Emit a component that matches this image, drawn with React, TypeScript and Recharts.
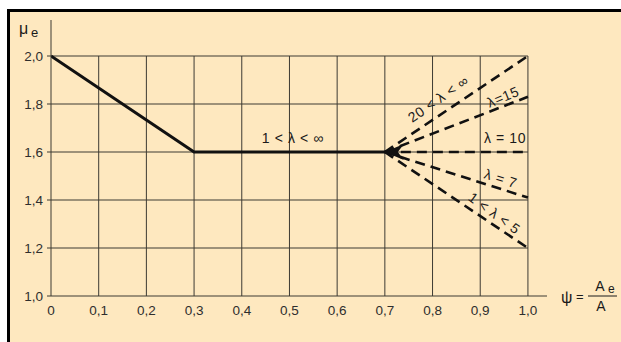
import React from 'react';
import { LineChart, Line, XAxis, YAxis, ReferenceLine, ReferenceDot } from 'recharts';

// x: psi = Ae / A, y: mu_e
const psiTicks = [0, 0.1, 0.2, 0.3, 0.4, 0.5, 0.6, 0.7, 0.8, 0.9, 1.0];
const muTicks = [1.0, 1.2, 1.4, 1.6, 1.8, 2.0];

const basePsi = [0, 0.3, 0.7];
const baseMu = [2.0, 1.6, 1.6];

const fanPsi = [0.7, 1.0];
const fanStartMu = 1.6;
const fanEndMu = [2.0, 1.83, 1.6, 1.41, 1.2];
const fanKeys = ['l20', 'l15', 'l10', 'l7', 'l5'];

const baseData = basePsi.map((x, i) => ({ x, y: baseMu[i] }));
const fanData = fanEndMu.map((end) => [
  { x: fanPsi[0], y: fanStartMu },
  { x: fanPsi[1], y: end },
]);

const ink = '#111';
const gridColor = '#3d3a33';
const font = '"Liberation Sans", Arial, sans-serif';

const curveLabels = [
  { text: '1 < λ < ∞', x: 0.507, y: 1.66, angle: 0 },
  { text: '20 < λ < ∞', x: 0.812, y: 1.822, angle: -35 },
  { text: 'λ=15', x: 0.948, y: 1.83, angle: -22 },
  { text: 'λ = 10', x: 0.952, y: 1.66, angle: 0 },
  { text: 'λ = 7', x: 0.943, y: 1.49, angle: 18 },
  { text: '1 < λ < 5', x: 0.93, y: 1.345, angle: 36 },
];

const fmt = (v: number) => (v === 0 ? '0' : v.toFixed(1).replace('.', ','));

const Arrow = (props: any) => {
  const { cx, cy, index } = props;
  if (index !== 0) return null;
  return (
    <polygon
      points={`${cx},${cy} ${cx + 19},${cy - 8} ${cx + 13},${cy} ${cx + 19},${cy + 8}`}
      fill={ink}
    />
  );
};

const rotatedLabel = (text: string, angle: number) => (p: any) => {
  const vb = p.viewBox || {};
  const x = vb.x + (vb.width || 0) / 2;
  const y = vb.y + (vb.height || 0) / 2;
  return (
    <text
      x={x}
      y={y}
      textAnchor="middle"
      dominantBaseline="central"
      transform={`rotate(${angle}, ${x}, ${y})`}
      fontFamily={font}
      fontSize={14}
      letterSpacing={0.6}
      fill="#1a1a1a"
    >
      {text}
    </text>
  );
};

export default function App() {
  return (
    <div style={{ position: 'fixed', left: 0, top: 0, width: 621, height: 342, background: '#fff', overflow: 'hidden' }}>
      <div
        style={{
          position: 'absolute',
          left: 7,
          top: 9,
          right: -10,
          bottom: -10,
          background: '#fee8bf',
          borderTop: '3px solid #000',
          borderLeft: '3px solid #000',
        }}
      />
      <div style={{ position: 'absolute', left: 0, top: 0 }}>
        <LineChart width={621} height={342} margin={{ top: 20, right: 74, bottom: 16, left: 11 }}>
          <XAxis
            type="number"
            dataKey="x"
            domain={[0, 1.04]}
            ticks={psiTicks}
            tickFormatter={fmt}
            allowDataOverflow
            stroke={gridColor}
            tickLine={false}
            tickSize={4}
            tickMargin={5}
            tick={{ fill: '#2e2e2e', fontSize: 13.5, fontFamily: font }}
          />
          <YAxis
            type="number"
            dataKey="y"
            domain={[1.0, 2.15]}
            ticks={muTicks}
            tickFormatter={fmt}
            allowDataOverflow
            width={40}
            stroke={gridColor}
            tickSize={4}
            tickMargin={4}
            tick={{ fill: '#2e2e2e', fontSize: 13.5, fontFamily: font }}
          />
          {psiTicks.slice(1).map((v) => (
            <ReferenceLine
              key={'v' + v}
              segment={[{ x: v, y: 1.0 }, { x: v, y: 2.0 }]}
              stroke={gridColor}
              strokeWidth={1}
            />
          ))}
          {muTicks.slice(1).map((v) => (
            <ReferenceLine
              key={'h' + v}
              segment={[{ x: 0, y: v }, { x: 1.0, y: v }]}
              stroke={gridColor}
              strokeWidth={1}
            />
          ))}
          <Line
            data={baseData}
            dataKey="y"
            stroke={ink}
            strokeWidth={3}
            dot={false}
            activeDot={false}
            isAnimationActive={false}
          />
          {fanData.map((d, i) => (
            <Line
              key={fanKeys[i]}
              data={d}
              dataKey="y"
              stroke={ink}
              strokeWidth={2.6}
              strokeDasharray="10 6"
              dot={i === 2 ? <Arrow /> : false}
              activeDot={false}
              isAnimationActive={false}
            />
          ))}
          {curveLabels.map((l) => (
            <ReferenceDot
              key={l.text}
              x={l.x}
              y={l.y}
              r={1}
              fill="none"
              stroke="none"
              label={{ content: rotatedLabel(l.text, l.angle) } as any}
            />
          ))}
        </LineChart>
      </div>
      <svg width={621} height={342} style={{ position: 'absolute', left: 0, top: 0, pointerEvents: 'none' }}>
        <g fontFamily={font} fill="#1a1a1a">
          <text x={19} y={34} fontSize={16}>μ</text>
          <text x={31} y={37} fontSize={13}>e</text>
          <text x={561} y={303} fontSize={16}>ψ</text>
          <text x={576} y={301} fontSize={13}>=</text>
          <text x={600} y={291} fontSize={14} textAnchor="middle">A</text>
          <text x={608} y={293} fontSize={12}>e</text>
          <line x1={588} y1={296} x2={617} y2={296} stroke="#1a1a1a" strokeWidth={1} />
          <text x={601} y={311} fontSize={14} textAnchor="middle">A</text>
        </g>
      </svg>
    </div>
  );
}
